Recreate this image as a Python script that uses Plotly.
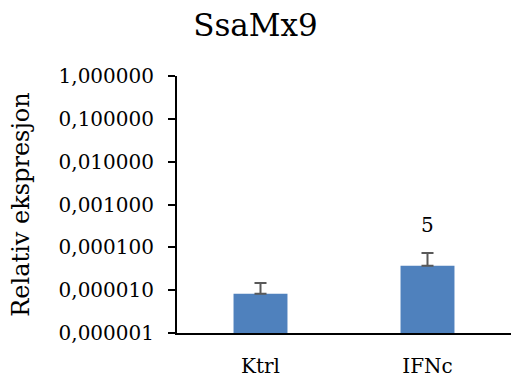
import math
import plotly.graph_objects as go

categories = ["Ktrl", "IFNc"]
values = [8.2e-6, 3.7e-5]
errors_plus = [6.5e-6, 3.7e-5]
bar_labels = ["", "5"]
tick_values = [1e-6, 1e-5, 1e-4, 1e-3, 1e-2, 1e-1, 1]
tick_labels = ["0,000001", "0,000010", "0,000100", "0,001000", "0,010000", "0,100000", "1,000000"]

FONT = "DejaVu Serif"

fig = go.Figure()
fig.add_trace(go.Bar(
    x=categories, y=values,
    marker=dict(color="#4F81BD", line=dict(width=0)),
    error_y=dict(type="data", symmetric=False, array=errors_plus, arrayminus=[0, 0],
                 color="#595959", thickness=2, width=6),
))

for c, v, e, t in zip(categories, values, errors_plus, bar_labels):
    if t:
        fig.add_annotation(x=c, y=math.log10(v + e), text=t, showarrow=False,
                           yanchor="bottom", yshift=14,
                           font=dict(family=FONT, size=20, color="#000000"))

fig.update_layout(
    width=511, height=381,
    margin=dict(l=177, r=0, t=76, b=48),
    paper_bgcolor="white", plot_bgcolor="white",
    bargap=0.677,
    showlegend=False,
    title=dict(text="SsaMx9", x=0.5, xref="container", xanchor="center",
               y=0.935, yref="container", yanchor="middle",
               font=dict(family=FONT, size=31, color="#000000")),
    font=dict(family=FONT, color="#000000"),
)

fig.update_yaxes(
    type="log", range=[-6, 0],
    tickvals=tick_values, ticktext=tick_labels,
    ticks="outside", ticklen=7, tickwidth=2, tickcolor="#000000",
    showline=True, linecolor="#000000", linewidth=2,
    showgrid=False, zeroline=False,
    tickfont=dict(family=FONT, size=20, color="#000000"),
    ticklabelstandoff=10,
    title=dict(text="Relativ ekspresjon", standoff=22,
               font=dict(family=FONT, size=24, color="#000000")),
)
fig.update_xaxes(
    showline=True, linecolor="#000000", linewidth=2,
    ticks="", showgrid=False, zeroline=False,
    tickfont=dict(family=FONT, size=20, color="#000000"),
    ticklabelstandoff=14,
)

fig.write_html("out.html", config={"displayModeBar": False},
               post_script="document.body.style.margin='0';")
